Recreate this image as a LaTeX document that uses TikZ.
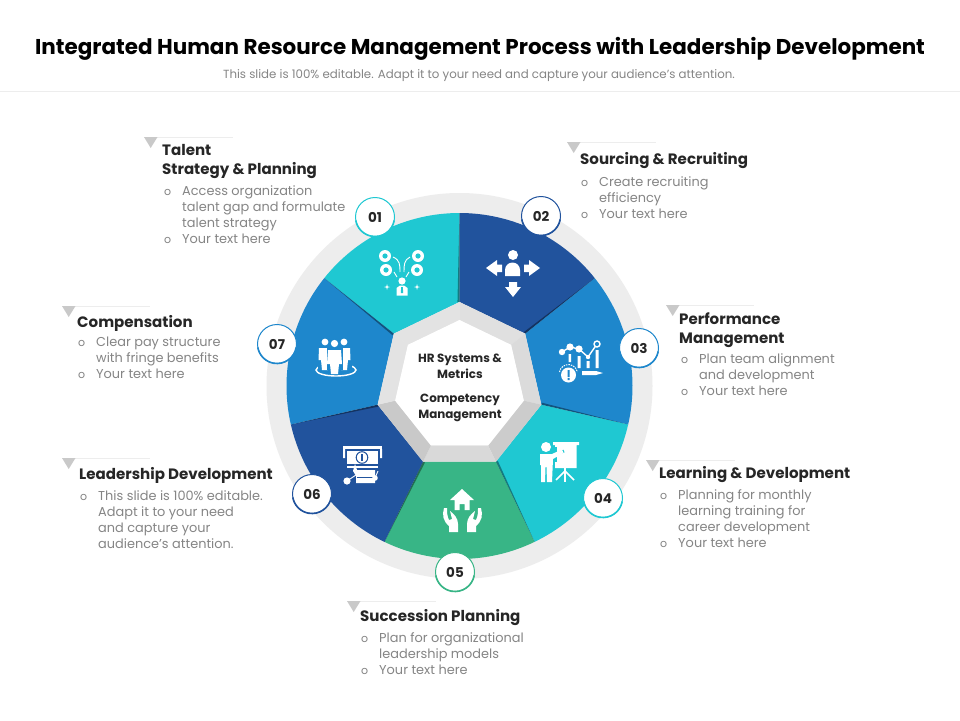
\documentclass[tikz,border=0pt]{standalone}
\usepackage{fontspec}
\setmainfont{Poppins}
\usetikzlibrary{calc}
\definecolor{teal1}{HTML}{1FC8D2}
\definecolor{navy1}{HTML}{21539D}
\definecolor{blue1}{HTML}{1E87CC}
\definecolor{green1}{HTML}{38B586}
\definecolor{ringg}{HTML}{EDEDED}
\definecolor{headc}{HTML}{262626}
\definecolor{bodyc}{HTML}{858585}
\definecolor{tric}{HTML}{C9C9C9}
\tikzset{
  headtxt/.style={anchor=base west,inner sep=0pt,text=headc,font=\fontsize{15.05}{16}\selectfont\bfseries},
  bodytxt/.style={anchor=base west,inner sep=0pt,text=bodyc,font=\fontsize{12.9}{14}\selectfont},
  bullettxt/.style={anchor=base west,inner sep=0pt,text=bodyc,font=\fontsize{11}{14}\selectfont},
  centertxt/.style={anchor=base,inner sep=0pt,text=headc,font=\fontsize{11.9}{12}\selectfont\bfseries},
  badge/.style={circle,fill=white,draw=#1,line width=1pt,minimum size=39pt,inner sep=0pt,text=headc,font=\fontsize{13.5}{14}\selectfont\bfseries},
}
\newcommand{\callout}[3]{%
  \fill[ringg] (#1,#2) rectangle (#1+#3,#2+1.2);
  \fill[tric] (#1,#2) -- (#1+13.5,#2) -- (#1+6.7,#2+11) -- cycle;}
\newcommand{\segm}[2]{%
  \fill[#1] (#2:84) -- (#2:173) arc[start angle=#2,delta angle=51.43,radius=173] -- ({#2+51.43}:84) -- cycle;}
\newcommand{\band}[2]{%
  \fill[#2] (#1:84) -- ({#1+51.43}:84) -- ({#1+51.43}:66) -- (#1:66) -- cycle;}
\newcommand{\seam}[1]{%
  \fill[black,opacity=.38] (#1:84) -- (#1:173) -- ({#1-1.4}:84) -- cycle;}
\begin{document}
\begin{tikzpicture}[x=1pt,y=-1pt]
\useasboundingbox (0,0) rectangle (960,720);
\fill[white] (0,0) rectangle (960,720);
% header
\node[anchor=base,inner sep=0pt,text=black,font=\fontsize{21.45}{24}\selectfont\bfseries] (title) at (480,54) {Integrated Human Resource Management Process with Leadership Development};
\node[anchor=base,inner sep=0pt,text=bodyc,font=\fontsize{11.8}{13}\selectfont] (subtitle) at (479,78) {This slide is 100\% editable. Adapt it to your need and capture your audience’s attention.};
\fill[ringg] (0,90.5) rectangle (960,91.5);
% wheel
\fill[ringg] (459.5,386) circle[radius=193];
\begin{scope}[shift={(459.5,386)}]
  \segm{teal1}{-141.43}
  \segm{navy1}{-90}
  \segm{blue1}{-38.57}
  \segm{teal1}{12.86}
  \segm{green1}{64.29}
  \segm{navy1}{115.71}
  \segm{blue1}{167.14}
  \seam{-90}\seam{-38.57}\seam{12.86}\seam{64.29}\seam{115.71}\seam{167.14}\seam{218.57}
  \band{-141.43}{black!11}
  \band{-90}{black!12}
  \band{-38.57}{black!14}
  \band{12.86}{black!20}
  \band{64.29}{black!15}
  \band{115.71}{black!21}
  \band{167.14}{black!11}
  \fill[white] (-90:66) -- (-38.57:66) -- (12.86:66) -- (64.29:66) -- (115.71:66) -- (167.14:66) -- (218.57:66) -- cycle;
\end{scope}
% centre text
\node[centertxt] (c1) at (460,362) {HR Systems \&};
\node[centertxt] (c2) at (460,378) {Metrics};
\node[centertxt] (c3) at (460,402) {Competency};
\node[centertxt] (c4) at (460,418) {Management};
% icon 01
\fill[white] (385,256) circle[radius=6] (418,256) circle[radius=6] (386,270) circle[radius=6] (417,270) circle[radius=6];
\foreach \p in {(385,256),(418,256),(386,270),(417,270)} \fill[teal1] \p circle[radius=2.6];
\draw[white,line width=.9pt] (393,257) .. controls (400,260) and (400,265) .. (400,272) (410,257) .. controls (404,260) and (404,265) .. (404,272) (394,272) -- (397,277) (409,272) -- (406,277);
\fill[white] (402,281) circle[radius=3.6];
\fill[white] (396.5,295.5) -- (396.5,288) -- (400,285.5) -- (404,285.5) -- (407.5,288) -- (407.5,295.5) -- cycle;
\fill[teal1] (401.2,287) -- (402.8,287) -- (403.2,293) -- (400.8,293) -- cycle;
\foreach \q in {(387,287),(417,287)} { \fill[white] \q ++(-3,0) -- ++(2.4,-.6) -- ++(.6,-2.4) -- ++(.6,2.4) -- ++(2.4,.6) -- ++(-2.4,.6) -- ++(-.6,2.4) -- ++(-.6,-2.4) -- cycle; }
% icon 02
\fill[white] (513,255) circle[radius=5];
\fill[white] (505,276) -- (505,270) arc[start angle=180,end angle=360,radius=7.5] -- (520,276) -- cycle;
\fill[white] (486,268) -- (497,260) -- (497,264.5) -- (502,264.5) -- (502,272) -- (497,272) -- (497,276) -- cycle;
\fill[white] (540,268) -- (529,260) -- (529,264.5) -- (524,264.5) -- (524,272) -- (529,272) -- (529,276) -- cycle;
\fill[white] (513,297) -- (505,287) -- (509,287) -- (509,282) -- (517,282) -- (517,287) -- (521,287) -- cycle;
% icon 03
\draw[white,line width=1.4pt] (562,352) -- (570,347) -- (579,349) -- (588,357) -- (597,344);
\fill[white] (562,352) circle[radius=3.2] (570,347) circle[radius=3.6] (579,349) circle[radius=3.6] (588,357) circle[radius=2.2];
\draw[white,line width=1.4pt,fill=blue1] (597,344) circle[radius=3];
\fill[white] (568.5,354) rectangle (571,362) (577.5,356) rectangle (580.5,368) (586.5,361) rectangle (589.5,368) (595.5,350) rectangle (598.5,368);
\draw[white,line width=1pt,dash pattern=on 1.5pt off 1pt] (559.5,372) arc[start angle=190,end angle=350,radius=9];
\fill[white] (568.5,375) circle[radius=7.5];
\fill[blue1] (567.5,370) rectangle (569.5,377) (567.5,378) rectangle (569.5,380);
\fill[white] (582,371) rectangle (596,375) (596,371) -- (603,373) -- (596,375) -- cycle;
% icon 04
\fill[white] (546,447) circle[radius=5];
\fill[white] (553,442) rectangle (579,445) (555,445) rectangle (576.5,468);
\fill[teal1] (553,447) rectangle (557,462);
\draw[teal1,line width=2.8pt] (552,456) -- (564,451);
\fill[white] (540,454) -- (552,454) -- (562,449.5) -- (563.5,453) -- (553,459) -- (552,482) -- (547,482) -- (546.5,467) -- (545.5,467) -- (545,482) -- (541,482) -- (541,465) -- (540,465) -- cycle;
\fill[white] (564,468) rectangle (566,482);
\draw[white,line width=1.6pt] (565,471) -- (556,480) (565,471) -- (574,480);
% icon 05
\fill[white] (462,489) -- (474,500) -- (469.5,500) -- (469.5,510) -- (464.5,510) -- (464.5,504) -- (459.5,504) -- (459.5,510) -- (454.5,510) -- (454.5,500) -- (450,500) -- cycle;
\fill[white] (444,508) .. controls (442,515) and (443,521) .. (449,526) -- (449,532) -- (458,532) -- (458,524) .. controls (458,518) and (454,514) .. (450,511) -- (452,519) -- (449,520) .. controls (447,516) and (447,512) .. (447,508) -- cycle;
\fill[white] (481,508) .. controls (483,515) and (482,521) .. (476,526) -- (476,532) -- (467,532) -- (467,524) .. controls (467,518) and (471,514) .. (475,511) -- (473,519) -- (476,520) .. controls (478,516) and (478,512) .. (478,508) -- cycle;
% icon 06
\fill[white] (343,446) rectangle (382,449);
\fill[white] (343,449) rectangle (345,458) (380,449) rectangle (382,458);
\fill[white] (347,451) rectangle (378,464);
\fill[white] (347,465.5) rectangle (378,468);
\draw[navy1,line width=1pt] (362,457.5) circle[radius=5.8];
\fill[navy1] (361.2,454) rectangle (362.8,461);
\fill[white] (355,464) -- (357,470) -- (375,470) -- (375,483) -- (356,483) -- (356,476) -- (353,471) -- cycle;
\fill[navy1] (357,477) rectangle (375,478.2);
\fill[white] (347,481) circle[radius=3.6] (375,478) circle[radius=2.8];
\draw[white,line width=.9pt] (347,481) -- (356,475) (375,478) -- (378,471);
% icon 07
\draw[white,line width=1.4pt] (336,370) ellipse[x radius=20,y radius=6];
\fill[blue1] (318,358) rectangle (352,370);
\foreach \h/\t in {325/342,344/342} {
  \fill[white] (\h,\t) circle[radius=3.4];
  \fill[white] (\h-6,\t+6) -- (\h+6,\t+6) -- (\h+6.5,\t+18) -- (\h+4,\t+18) -- (\h+3,\t+28) -- (\h-3,\t+28) -- (\h-4,\t+18) -- (\h-6.5,\t+18) -- cycle;
}
\fill[blue1] (326.5,348) rectangle (342.5,370);
\fill[white] (334.5,343.5) circle[radius=3.6];
\fill[white] (328,350) -- (341,350) -- (342,364) -- (339,364) -- (338,374) -- (331,374) -- (330,364) -- (327,364) -- cycle;
% badges
\newcommand{\mybadge}[5]{%
  \node[badge=#4] (#1) at (#2,#3) {#5};
  \draw[#4,line width=1.6pt] ($(#2,#3)+(10:19.5)$) arc[start angle=10,end angle=170,radius=19.5];}
\mybadge{b1}{375}{217}{teal1}{01}
\mybadge{b2}{541}{216}{navy1}{02}
\mybadge{b3}{639}{348}{blue1}{03}
\mybadge{b4}{603}{498}{teal1}{04}
\mybadge{b5}{455}{572}{green1}{05}
\mybadge{b6}{312}{494}{navy1}{06}
\mybadge{b7}{277}{344}{blue1}{07}
% callouts
\callout{144}{137}{89}
\node[headtxt] (h1a) at (162,155) {Talent};
\node[headtxt] (h1b) at (162,174) {Strategy \& Planning};
\node[bullettxt] (o1a) at (164,195) {o}; \node[bodytxt] (t1a) at (182,195) {Access organization};
\node[bodytxt] (t1b) at (182,211) {talent gap and formulate};
\node[bodytxt] (t1c) at (182,227) {talent strategy};
\node[bullettxt] (o1b) at (164,243) {o}; \node[bodytxt] (t1d) at (182,243) {Your text here};
\callout{567}{142}{89}
\node[headtxt] (h2) at (580,164) {Sourcing \& Recruiting};
\node[bullettxt] (o2a) at (581,186) {o}; \node[bodytxt] (t2a) at (599,186) {Create recruiting};
\node[bodytxt] (t2b) at (599,202) {efficiency};
\node[bullettxt] (o2b) at (581,218) {o}; \node[bodytxt] (t2c) at (599,218) {Your text here};
\callout{666}{305}{88}
\node[headtxt] (h3a) at (679,324) {Performance};
\node[headtxt] (h3b) at (679,343) {Management};
\node[bullettxt] (o3a) at (681,363) {o}; \node[bodytxt] (t3a) at (699,363) {Plan team alignment};
\node[bodytxt] (t3b) at (699,379) {and development};
\node[bullettxt] (o3b) at (681,395) {o}; \node[bodytxt] (t3c) at (699,395) {Your text here};
\callout{646}{460}{89}
\node[headtxt] (h4) at (659,478) {Learning \& Development};
\node[bullettxt] (o4a) at (660,499) {o}; \node[bodytxt] (t4a) at (678,499) {Planning for monthly};
\node[bodytxt] (t4b) at (678,515) {learning training for};
\node[bodytxt] (t4c) at (678,531) {career development};
\node[bullettxt] (o4b) at (660,547) {o}; \node[bodytxt] (t4d) at (678,547) {Your text here};
\callout{347}{601}{89}
\node[headtxt] (h5) at (360,621) {Succession Planning};
\node[bullettxt] (o5a) at (361,642) {o}; \node[bodytxt] (t5a) at (379,642) {Plan for organizational};
\node[bodytxt] (t5b) at (379,658) {leadership models};
\node[bullettxt] (o5b) at (361,674) {o}; \node[bodytxt] (t5c) at (379,674) {Your text here};
\callout{62}{458}{88}
\node[headtxt] (h6) at (79,479) {Leadership Development};
\node[bullettxt] (o6a) at (80,500) {o}; \node[bodytxt] (t6a) at (98,500) {This slide is 100\% editable.};
\node[bodytxt] (t6b) at (98,516) {Adapt it to your need};
\node[bodytxt] (t6c) at (98,532) {and capture your};
\node[bodytxt] (t6d) at (98,548) {audience’s attention.};
\callout{62}{306}{88}
\node[headtxt] (h7) at (77,327) {Compensation};
\node[bullettxt] (o7a) at (78,346) {o}; \node[bodytxt] (t7a) at (96,346) {Clear pay structure};
\node[bodytxt] (t7b) at (96,362) {with fringe benefits};
\node[bullettxt] (o7b) at (78,378) {o}; \node[bodytxt] (t7c) at (96,378) {Your text here};
\end{tikzpicture}
\end{document}
